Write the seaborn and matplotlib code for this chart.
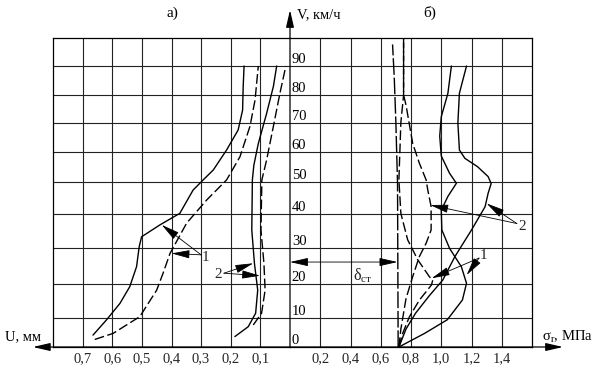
import numpy as np
import pandas as pd
import matplotlib
matplotlib.use("Agg")
import matplotlib.pyplot as plt
import seaborn as sns

# ---------------- data ----------------
# left panel: displacement U, mm vs speed V, km/h
u1_solid_V = [4.1, 9.4, 14.3, 19.2, 24.8, 30.4, 33.3, 36.8, 40.2, 47.5, 50.7, 54, 60.7, 67.6, 74.6, 83, 90]
u1_solid_U = [0.665, 0.619, 0.574, 0.541, 0.518, 0.509, 0.501, 0.439, 0.372, 0.327, 0.293, 0.259, 0.214, 0.175, 0.16, 0.158, 0.155]
u1_dash_V = [2.6, 4.7, 10.4, 18.2, 23.1, 28.5, 37.3, 44.4, 50.7, 58.4, 68.9, 78.2, 90]
u1_dash_U = [0.659, 0.597, 0.507, 0.45, 0.428, 0.405, 0.349, 0.281, 0.214, 0.169, 0.135, 0.118, 0.107]
u2_solid_V = [3.6, 7, 11.4, 18.2, 25.7, 35.3, 50.7, 55.6, 62.9, 73.4, 83, 90]
u2_solid_U = [0.186, 0.141, 0.116, 0.109, 0.12, 0.129, 0.127, 0.122, 0.107, 0.079, 0.056, 0.045]
u2_dash_V = [7.6, 11.4, 18.2, 25.7, 35.3, 50.7, 57.3, 68.9, 80.6, 90]
u2_dash_U = [0.124, 0.096, 0.084, 0.088, 0.098, 0.095, 0.079, 0.056, 0.034, 0.014]

# right panel: stress sigma_r, MPa vs speed V, km/h
s1_solid_V = [0, 4.7, 9.4, 15.3, 20.2, 24.8, 29.9, 35.3, 41.2, 45.5, 49.6, 52.9, 58.7, 65.5, 72.2, 80.6, 90]
s1_solid_S = [0.72, 0.89, 1.04, 1.14, 1.167, 1.133, 1.055, 1.004, 1.0, 1.044, 1.1, 1.055, 1.0, 0.99, 1.0, 1.044, 1.067]
s2_solid_V = [0, 6.2, 11.4, 16.5, 21.1, 27.6, 35.3, 42.3, 46.5, 49.5, 51.8, 55.1, 57.9, 60.7, 70, 80.6, 90]
s2_solid_S = [0.72, 0.767, 0.83, 0.92, 1.01, 1.09, 1.2, 1.29, 1.31, 1.33, 1.31, 1.24, 1.156, 1.12, 1.11, 1.12, 1.167]
s1_dash_V = [0, 4.7, 10.4, 15.3, 19.7, 21.1, 22, 26.7, 32.4, 40.2, 50.7, 70.2, 80, 100]
s1_dash_S = [0.72, 0.745, 0.79, 0.856, 0.935, 0.944, 0.922, 0.845, 0.778, 0.733, 0.72, 0.733, 0.751, 0.751]
s2_dash_V = [0, 6.2, 15.7, 21.9, 27.6, 31.4, 35.3, 42.3, 47.5, 50.7, 56.3, 63, 76.4, 80, 100]
s2_dash_S = [0.72, 0.733, 0.767, 0.81, 0.855, 0.9, 0.933, 0.933, 0.911, 0.9, 0.855, 0.811, 0.767, 0.751, 0.751]
static_V = [0, 49.4, 70.2, 86.4, 97.7]
static_S = [0.715, 0.711, 0.7, 0.689, 0.678]

v_ticks = [0, 10, 20, 30, 40, 50, 60, 70, 80, 90]
v_labels = ["0", "10", "20", "30", "40", "50", "60", "70", "80", "90"]
u_ticks = [0.7, 0.6, 0.5, 0.4, 0.3, 0.2, 0.1]
u_labels = ["0,7", "0,6", "0,5", "0,4", "0,3", "0,2", "0,1"]
s_ticks = [0.2, 0.4, 0.6, 0.8, 1.0, 1.2, 1.4]
s_labels = ["0,2", "0,4", "0,6", "0,8", "1,0", "1,2", "1,4"]

# grid spacing of the scanned original is slightly uneven
grid_V = [-100, 0, 10, 20, 30, 40, 50, 60, 70, 80, 90, 100, 200]
grid_P = [-290, 0, 29, 63, 99, 133, 165, 195, 224, 252, 281, 309, 589]

# ---------------- style ----------------
sns.set_style("white")
plt.rcParams["font.family"] = ["Liberation Serif", "DejaVu Serif"]
plt.rcParams["mathtext.fontset"] = "custom"
plt.rcParams["mathtext.rm"] = "Liberation Serif"
plt.rcParams["mathtext.it"] = "Liberation Serif"
FS = 10.5
K = "black"

fig = plt.figure(figsize=(6, 3.69), dpi=100)
axL = fig.add_axes([53 / 600, 22 / 369, 237 / 600, 309 / 369])
axR = fig.add_axes([290 / 600, 22 / 369, 242 / 600, 309 / 369])

fwd = lambda v: np.interp(v, grid_V, grid_P)
inv = lambda p: np.interp(p, grid_P, grid_V)

for ax in (axL, axR):
    ax.set_yscale("function", functions=(fwd, inv))
    ax.set_ylim(0, 100)
    ax.set_yticks(v_ticks[1:])
    ax.set_yticklabels([])
    ax.grid(True, color="#222222", lw=0.8)
    ax.tick_params(length=0, pad=4, labelsize=FS)
    ax.set_facecolor("white")
    for s in ax.spines.values():
        s.set_color(K)
        s.set_linewidth(0.9)

axL.set_xlim(0.8, 0)
axL.set_xticks(u_ticks)
axL.set_xticklabels(u_labels)
axL.spines["right"].set_visible(False)

axR.set_xlim(0, 1.6)
axR.set_xticks(s_ticks)
axR.set_xticklabels(s_labels)
axR.spines["left"].set_visible(False)

SOLID = "-"
DASH = (0, (7, 2.5))
LONG = (0, (12, 2))

def curve(ax, x, y, ls):
    sns.lineplot(x=x, y=y, ax=ax, sort=False, estimator=None, color=K,
                 lw=1.0, linestyle=ls)

curve(axL, u1_solid_U, u1_solid_V, SOLID)
curve(axL, u1_dash_U, u1_dash_V, DASH)
curve(axL, u2_solid_U, u2_solid_V, SOLID)
curve(axL, u2_dash_U, u2_dash_V, DASH)
curve(axR, s1_solid_S, s1_solid_V, SOLID)
curve(axR, s2_solid_S, s2_solid_V, SOLID)
curve(axR, s1_dash_S, s1_dash_V, DASH)
curve(axR, s2_dash_S, s2_dash_V, DASH)
curve(axR, static_S, static_V, LONG)

for ax in (axL, axR):
    ax.set_xlabel("")
    ax.set_ylabel("")

AX_ARROW = dict(arrowstyle="-|>,head_length=1.3,head_width=0.3", mutation_scale=8,
                lw=0.9, color=K, shrinkA=0, shrinkB=0)
PTR = dict(arrowstyle="-|>,head_length=1.4,head_width=0.32", mutation_scale=8,
           lw=0.6, color=K, shrinkA=0, shrinkB=0)

# axes arrows
axR.annotate("", xy=(0, 110), xytext=(0, 0), arrowprops=AX_ARROW, annotation_clip=False)
axL.annotate("", xy=(0.868, 0), xytext=(0, 0), arrowprops=AX_ARROW, annotation_clip=False)
axR.annotate("", xy=(1.805, 0), xytext=(0, 0), arrowprops=AX_ARROW, annotation_clip=False)

# V labels along the central axis
for v, lab in zip(v_ticks, v_labels):
    axR.text(0.012, v, lab, ha="left", va="bottom", fontsize=FS, color=K)

axR.text(0.046, 108.3, "V, км/ч", ha="left", va="center", fontsize=FS, color=K)
axL.text(0.398, 108.9, "а)", ha="center", va="center", fontsize=FS + 0.5, color=K)
axR.text(0.926, 108.9, "б)", ha="center", va="center", fontsize=FS + 0.5, color=K)
axL.text(0.962, 3.5, "U, мм", ha="left", va="center", fontsize=FS, color=K)
axR.text(1.664, 3.6, r"σ$_\mathregular{r}$, МПа", ha="left", va="center", fontsize=FS, color=K)

# left labels
axL.text(0.284, 27.3, "1", ha="center", va="center", fontsize=FS + 0.5)
axL.annotate("", xy=(0.433, 36.8), xytext=(0.30, 28.1), arrowprops=PTR)
axL.annotate("", xy=(0.40, 28.5), xytext=(0.30, 28.1), arrowprops=PTR)
axL.text(0.242, 22.7, "2", ha="center", va="center", fontsize=FS + 0.5)
axL.annotate("", xy=(0.124, 25.75), xytext=(0.223, 23.0), arrowprops=PTR)
axL.annotate("", xy=(0.101, 22.3), xytext=(0.223, 23.0), arrowprops=PTR)

# right labels
axR.text(1.532, 36.3, "2", ha="center", va="center", fontsize=FS + 0.5)
axR.annotate("", xy=(0.927, 42.8), xytext=(1.50, 37.2), arrowprops=PTR)
axR.annotate("", xy=(1.30, 43.3), xytext=(1.50, 37.2), arrowprops=PTR)
axR.text(1.28, 27.8, "1", ha="center", va="center", fontsize=FS + 0.5)
axR.annotate("", xy=(0.937, 21.6), xytext=(1.25, 27.2), arrowprops=PTR)
axR.annotate("", xy=(1.168, 22.5), xytext=(1.25, 27.2), arrowprops=PTR)

# static value marker
axR.annotate("", xy=(0.0, 26.1), xytext=(0.71, 26.1),
             arrowprops=dict(arrowstyle="<|-|>,head_length=1.4,head_width=0.32",
                             mutation_scale=8, lw=0.6, color=K, shrinkA=0, shrinkB=0),
             annotation_clip=False)
axR.text(0.48, 22.3, r"δ$_\mathregular{ст}$", ha="center", va="center", fontsize=FS + 1)

fig.savefig("out.png", dpi=100, facecolor="white")
